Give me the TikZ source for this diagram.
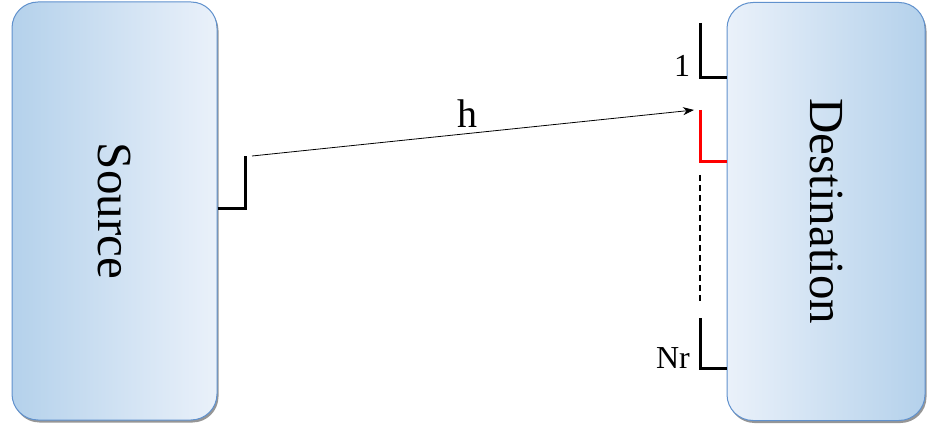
\documentclass[tikz,border=0pt]{standalone}
\usepackage{fontspec}
\setmainfont{Liberation Serif}
\usetikzlibrary{arrows.meta,shadows}
\definecolor{boxdark}{RGB}{180,209,235}
\definecolor{boxlight}{RGB}{234,241,250}
\definecolor{boxedge}{RGB}{96,145,205}

\begin{document}
\begin{tikzpicture}[x=1pt, y=1pt,
      device/.style={draw=boxedge, line width=1pt, rounded corners=26pt,
        rotate=-90, minimum width=418pt, inner sep=0pt,
        font=\fontsize{49}{49}\selectfont,
        drop shadow={shadow xshift=1.5pt, shadow yshift=-2.5pt,
          opacity=.55, fill=black!75}},
      antenna/.style={line width=3pt, line cap=butt, line join=miter},
      link/.style={-{Stealth[length=11pt, width=8pt]}, line width=0.8pt},
      lbl/.style={inner sep=0pt, font=\fontsize{32}{32}\selectfont}
    ]
    \useasboundingbox (0,0) rectangle (927,429);

    \node[device, minimum height=205pt, left color=boxdark, right color=boxlight]
      (src) at (114.5,218) {Source};
    \node[device, minimum height=198pt, left color=boxlight, right color=boxdark]
      (dst) at (826,217.5) {Destination};

    % source antenna
    \coordinate (srcfeed) at (src.north |- 0,220);
    \coordinate (srctip) at (245,273);
    \draw[antenna] (srcfeed) -| (srctip);

    % receive antennas
    \coordinate (rxa) at (700,406);
    \coordinate (rxb) at (700,319);
    \coordinate (rxc) at (700,111);
    \coordinate (dotsa) at (700,254);
    \coordinate (dotsb) at (700,126);
    \draw[antenna] (rxa) |- (dst.south |- 0,351);
    \draw[antenna, red] (rxb) |- (dst.south |- 0,267);
    \draw[antenna] (rxc) |- (dst.south |- 0,61);
    \draw[line width=2.5pt, dash pattern=on 6pt off 4pt] (dotsa) -- (dotsb);

    \node[lbl] (one) at (682,363) {1};
    \node[lbl] (nr) at (673,71) {Nr};

    % channel
    \coordinate (hstart) at (252,273);
    \coordinate (hend) at (694,319);
    \draw[link] (hstart) -- (hend);
    \node[inner sep=0pt, font=\fontsize{40}{40}\selectfont] (h) at (467,315) {h};
  \end{tikzpicture}
\end{document}
